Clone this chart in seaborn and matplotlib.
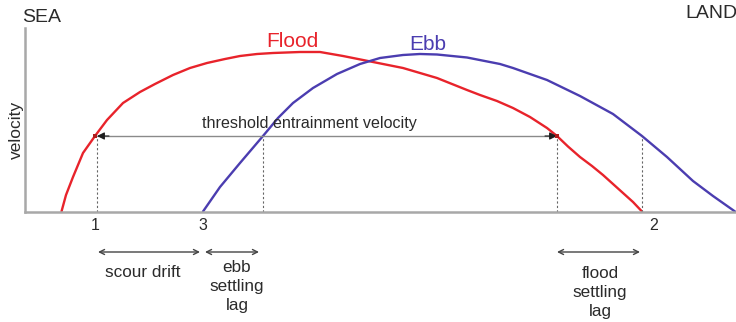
import matplotlib
matplotlib.use("Agg")
import matplotlib.pyplot as plt
import seaborn as sns
import pandas as pd

# ---- data (time along tidal cycle, velocity; arbitrary units) ----
flood_t = [36.5, 41, 48, 58, 70, 82, 98, 115, 130, 148, 165, 182, 200, 215, 232,
           248, 275, 295, 318, 348, 378, 412, 442, 455, 472, 488, 505, 522, 532,
           543, 555, 567, 578, 588, 598, 608, 617]
flood_v = [0, 16.5, 34.5, 58.5, 75.5, 91.5, 108.5, 119.5, 127.5, 136.5, 143.5,
           148.5, 152.5, 155.5, 157.5, 158.5, 159.5, 159.5, 155.5, 149.5, 143.5,
           133.5, 121.5, 116.5, 110.5, 103.5, 94.5, 83.5, 75.5, 65, 54.5, 45.5,
           36.5, 27.5, 18.5, 9.5, 0]
ebb_t = [178, 195, 215, 238, 253, 268, 288, 312, 335, 355, 378, 395, 412, 442,
         475, 488, 522, 555, 588, 617, 642, 668, 688, 710]
ebb_v = [0, 24.5, 48.5, 75.5, 93.5, 108.5, 123.5, 137.5, 147.5, 153.5, 156.5,
         157.5, 157, 154, 147.5, 143.5, 131.5, 115.5, 97.5, 75.5, 54.5, 30.5,
         15.5, 0]
threshold = 75.5
crossing_t = [72, 238, 532, 617]          # dashed lines: flood up, ebb up, flood down, ebb down
point_labels = ["1", "3", "2"]
point_label_t = [70, 178, 629]
interval_start = [73, 180, 532]
interval_end = [175, 234, 615]
interval_labels = ["scour drift", "ebb\nsettling\nlag", "flood\nsettling\nlag"]
interval_label_t = [118, 212, 575]

RED = "#e8232b"
BLUE = "#4b3db0"
TXT = "#2b2b2b"

sns.set_theme(style="white")
plt.rcParams["font.family"] = ["Liberation Sans", "DejaVu Sans"]

W, H = 736, 322
fig = plt.figure(figsize=(W / 100, H / 100), dpi=100)
x0, ybase, ytop = 25, 211.5, 28
ax = fig.add_axes([x0 / W, (H - ybase) / H, (W - x0) / W, (ybase - ytop) / H])
ax.set_xlim(0, W - x0)
ax.set_ylim(0, ybase - ytop)

df_f = pd.DataFrame({"t": flood_t, "v": flood_v})
df_e = pd.DataFrame({"t": ebb_t, "v": ebb_v})
sns.lineplot(data=df_f, x="t", y="v", ax=ax, color=RED, lw=1.7, sort=False, estimator=None)
sns.lineplot(data=df_e, x="t", y="v", ax=ax, color=BLUE, lw=1.7, sort=False, estimator=None)

for s in ["top", "right"]:
    ax.spines[s].set_visible(False)
for s in ["left", "bottom"]:
    ax.spines[s].set_color("#a8a8a8")
    ax.spines[s].set_linewidth(1.8)
ax.set_xticks([])
ax.set_yticks([])
ax.set_xlabel("")
ax.set_ylabel("")

# dashed vertical lines
ax.vlines(crossing_t, 0, threshold, colors="#666666", linestyles=(0, (2, 2)), lw=0.8)

# threshold arrow: grey shaft, dark heads
ax.hlines(threshold, crossing_t[0], crossing_t[2], colors="#8a8a8a", lw=1.0)
for tip, tail in [(crossing_t[0], crossing_t[0] + 12), (crossing_t[2], crossing_t[2] - 12)]:
    ax.annotate("", xy=(tip, threshold), xytext=(tail, threshold),
                arrowprops=dict(arrowstyle="-|>", color="#1e1e1e", lw=0.8,
                                mutation_scale=11, shrinkA=0, shrinkB=0))
sns.scatterplot(x=[crossing_t[0] - 2, crossing_t[2]], y=[threshold, threshold], ax=ax,
                marker="s", s=12, color="#b01c1c", edgecolor="none", zorder=5)
ax.text(284.5, threshold + 12.5, "threshold entrainment velocity",
        ha="center", va="center", fontsize=11.6, color=TXT)

ax.text(267, 170, "Flood", color=RED, fontsize=15, ha="center", va="center")
ax.text(403, 167.5, "Ebb", color=BLUE, fontsize=15, ha="center", va="center")

kw = dict(clip_on=False, color=TXT)
ax.text(-3, 194.5, "SEA", fontsize=14, ha="left", va="center", **kw)
ax.text(660, 198, "LAND", fontsize=14, ha="left", va="center", **kw)
ax.text(-9, 81.5, "velocity", fontsize=12.5, rotation=90, ha="center", va="center", **kw)

for lab, t in zip(point_labels, point_label_t):
    ax.text(t, -14, lab, fontsize=11.5, ha="center", va="center", **kw)

label_top = [-53.5, -49, -55]
for a, b, lab, t, yt in zip(interval_start, interval_end, interval_labels,
                            interval_label_t, label_top):
    ax.annotate("", xy=(a, -40.5), xytext=(b, -40.5), annotation_clip=False,
                arrowprops=dict(arrowstyle="<->", color="#444444", lw=1.0,
                                mutation_scale=9, shrinkA=0, shrinkB=0))
    ax.text(t, yt, lab, fontsize=12.3, ha="center", va="top", linespacing=1.3,
            multialignment="center", **kw)

fig.savefig("out.png", dpi=100)
